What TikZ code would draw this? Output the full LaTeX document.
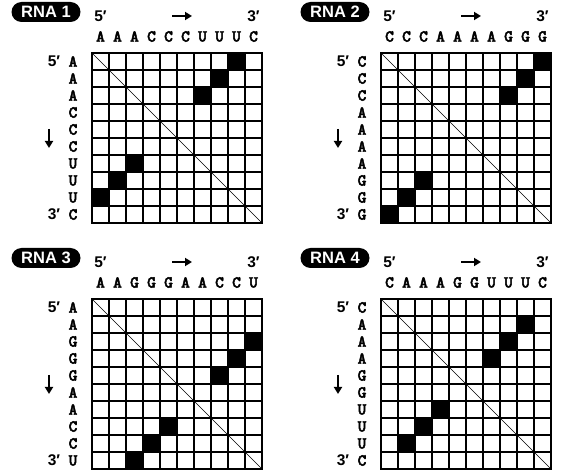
\documentclass[tikz,border=0pt]{standalone}
\usepackage{fontspec}
\usetikzlibrary{positioning,arrows.meta}
\newfontfamily\labfont{Liberation Sans}
\newfontfamily\seqfont{lmmonolt10-bold.otf}[FakeBold=2.5]

\begin{document}
\begin{tikzpicture}[
  x=1pt, y=-1pt,
  nt/.style={inner sep=0pt, font=\seqfont\fontsize{16.8}{16.8}\selectfont},
  prime/.style={inner sep=0pt, font=\labfont\bfseries\fontsize{15.5}{15}\selectfont},
  tag/.style={fill=black, text=white, rounded corners=10pt, minimum width=69pt,
    minimum height=20pt, inner sep=0pt, font=\labfont\bfseries\fontsize{16.5}{16}\selectfont},
  dirarrow/.style={line width=2pt, -{Triangle[length=7pt, width=8pt]}},
  gridline/.style={line width=1.8pt, line cap=rect},
]
\useasboundingbox (0,0) rectangle (566,476);
% one panel per RNA: grid corner, sequence, paired cells (row/col)
\foreach \n/\gx/\gy/\seq/\blk in {
  1/92/53/{A,A,A,C,C,C,U,U,U,C}/{0/8,1/7,2/6,6/2,7/1,8/0},
  2/381/53/{C,C,C,A,A,A,A,G,G,G}/{0/9,1/8,2/7,7/2,8/1,9/0},
  3/92/299/{A,A,G,G,G,A,A,C,C,U}/{2/9,3/8,4/7,7/4,8/3,9/2},
  4/381/299/{C,A,A,A,G,G,U,U,U,C}/{1/8,2/7,3/6,6/3,7/2,8/1}}{
\begin{scope}[shift={(\gx,\gy)}]
  % label and strand ends
  \node[tag] (rna\n) at (-46,-41) {RNA \n};
  \node[prime] (top5\n) at (8.5,-37) {5′};
  \node[prime] (top3\n) at (161.5,-37) {3′};
  \node[prime] (side5\n) at (-38,8.5) {5′};
  \node[prime] (side3\n) at (-38,161.5) {3′};
  \coordinate (r0\n) at (80,-37);
  \coordinate (r1\n) at (100,-37);
  \draw[dirarrow] (r0\n) -- (r1\n);
  \coordinate (d0\n) at (-43,76);
  \coordinate (d1\n) at (-43,95);
  \draw[dirarrow] (d0\n) -- (d1\n);
  % bases along both sides
  \foreach \b [count=\i from 0] in \seq {
    \node[nt] (top\n-\i) at (8.5+17*\i,-16.5) {\b};
    \node[nt] (side\n-\i) at (-19,8.5+17*\i) {\b};
  }
  % base pairs
  \foreach \r/\c in \blk
    \fill (17*\c,17*\r) rectangle +(17,17);
  % grid
  \foreach \k in {0,...,10} {
    \draw[gridline] (17*\k,0) -- (17*\k,170);
    \draw[gridline] (0,17*\k) -- (170,17*\k);
  }
  \draw[line width=0.7pt] (0,0) -- (170,170);
\end{scope}
}
\end{tikzpicture}
\end{document}
